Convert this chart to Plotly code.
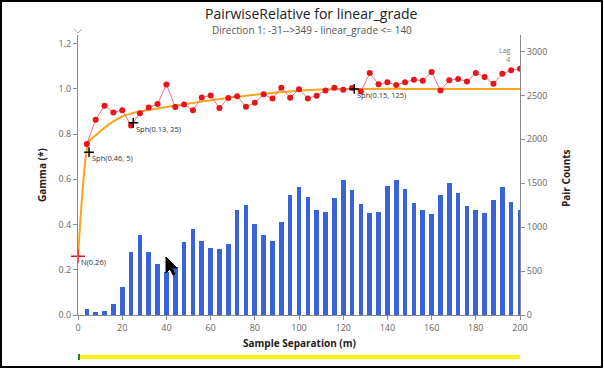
import plotly.graph_objects as go

# ---- data ----
lags = [4, 8, 12, 16, 20, 24, 28, 32, 36, 40, 44, 48, 52, 56, 60, 64, 68, 72, 76, 80,
        84, 88, 92, 96, 100, 104, 108, 112, 116, 120, 124, 128, 132, 136, 140, 144,
        148, 152, 156, 160, 164, 168, 172, 176, 180, 184, 188, 192, 196, 200]
gamma = [0.756, 0.864, 0.926, 0.896, 0.906, 0.838, 0.892, 0.918, 0.933, 1.020,
         0.920, 0.931, 0.906, 0.962, 0.971, 0.915, 0.960, 0.968, 0.921, 0.939,
         0.976, 0.957, 1.005, 0.961, 0.999, 0.958, 0.970, 0.993, 1.005, 0.996,
         1.004, 0.989, 1.070, 1.021, 1.029, 1.017, 1.029, 1.041, 1.036, 1.075,
         0.993, 1.038, 1.044, 1.033, 1.070, 1.053, 1.023, 1.067, 1.082, 1.089]
pair_counts = [65, 35, 50, 130, 320, 712, 913, 712, 576, 493, 542, 826, 974, 845, 762,
               747, 803, 1198, 1251, 1031, 906, 845, 1061, 1364, 1459, 1345, 1194, 1171,
               1334, 1540, 1421, 1262, 1167, 1175, 1470, 1540, 1436, 1270, 1190, 1145,
               1372, 1505, 1391, 1236, 1190, 1156, 1304, 1459, 1292, 1201]

model_x = [0, 1, 2, 3, 4, 5, 7, 10, 15, 20, 25, 30, 40, 50, 60, 70, 80, 90, 100,
           110, 125, 150, 175, 200]
model_y = [0.26, 0.406, 0.541, 0.653, 0.732, 0.768, 0.786, 0.812, 0.850, 0.878, 0.894,
           0.903, 0.920, 0.935, 0.950, 0.963, 0.974, 0.984, 0.992, 0.997, 1.0, 1.0, 1.0, 1.0]

nugget_x = [0]
nugget_y = [0.26]
nugget_label = ["N(0.26)"]
struct_x = [5, 25, 125]
struct_y = [0.72, 0.85, 1.0]
struct_labels = ["Sph(0.46, 5)", "Sph(0.13, 25)", "Sph(0.15, 125)"]

x_ticks = [0, 20, 40, 60, 80, 100, 120, 140, 160, 180, 200]
gamma_ticks = [0.0, 0.2, 0.4, 0.6, 0.8, 1.0, 1.2]
count_ticks = [0, 500, 1000, 1500, 2000, 2500, 3000]

FONT = "Open Sans"
GREY = "#666666"
AXC = "#8a8a8a"
W, H = 442, 280  # plot area size in px

fig = go.Figure()

fig.add_trace(go.Bar(x=lags, y=pair_counts, width=2.1, marker_color="#3b63d9",
                     marker_line_width=0, yaxis="y", showlegend=False))
fig.add_trace(go.Scatter(x=model_x, y=model_y, mode="lines",
                         line=dict(color="#ffa41c", width=2, shape="spline"),
                         yaxis="y2", showlegend=False, cliponaxis=False))
fig.add_trace(go.Scatter(x=lags, y=gamma, mode="lines+markers",
                         line=dict(color="#f0707a", width=1),
                         marker=dict(color="#e8141c", size=6),
                         yaxis="y2", showlegend=False))
fig.add_trace(go.Scatter(x=struct_x, y=struct_y, mode="markers",
                         marker=dict(symbol="cross-thin", size=7, line=dict(color="black", width=1.5)),
                         yaxis="y2", showlegend=False, cliponaxis=False))
fig.add_trace(go.Scatter(x=nugget_x, y=nugget_y, mode="markers",
                         marker=dict(symbol="cross-thin", size=10, line=dict(color="#e8141c", width=1.5)),
                         yaxis="y2", showlegend=False, cliponaxis=False))

annots = []
for xv, yv, t in zip(nugget_x + struct_x, nugget_y + struct_y, nugget_label + struct_labels):
    annots.append(dict(x=xv, y=yv, xref="x", yref="y2", text=t, showarrow=False,
                       xanchor="left", yanchor="top", xshift=1, yshift=1,
                       font=dict(family=FONT, size=7.5, color="#333333")))

annots += [
    dict(x=0.529, y=1.0, xref="paper", yref="paper", yanchor="middle", yshift=35 - 13,
         text="PairwiseRelative for linear_grade", showarrow=False,
         font=dict(family=FONT, size=14, color="#222222")),
    dict(x=0.529, y=1.0, xref="paper", yref="paper", yanchor="middle", yshift=35 - 30,
         text="Direction 1: -31-->349 - linear_grade <= 140", showarrow=False,
         font=dict(family=FONT, size=10, color="#555555")),
    dict(x=0.5, y=0, xref="paper", yref="paper", yanchor="middle", yshift=-(343 - 315),
         text="<b>Sample Separation (m)</b>", showarrow=False,
         font=dict(family=FONT, size=10, color="#222222")),
    dict(x=0, y=0.5, xref="paper", yref="paper", xanchor="center", yanchor="middle", xshift=42 - 78,
         textangle=-90, text="<b>Gamma (*)</b>", showarrow=False,
         font=dict(family=FONT, size=10, color="#222222")),
    dict(x=1, y=0.5, xref="paper", yref="paper", xanchor="center", yanchor="middle", xshift=566 - 520,
         yshift=-3, textangle=-90, text="<b>Pair Counts</b>", showarrow=False,
         font=dict(family=FONT, size=10, color="#222222")),
    dict(x=1, y=1, xref="paper", yref="paper", xanchor="right", yanchor="top", xshift=-7, yshift=-9,
         text="Lag<br>4", showarrow=False, align="right",
         font=dict(family=FONT, size=7, color="#777777")),
]

shapes = [
    # outer frame
    dict(type="rect", xref="paper", yref="paper", x0=-77 / W, x1=(602 - 78) / W,
         y0=(315 - 367) / H, y1=314 / H, line=dict(color="black", width=2)),
    # yellow slider bar
    dict(type="rect", xref="x", yref="paper", x0=0, x1=200,
         y0=(315 - 359) / H, y1=(315 - 355) / H, fillcolor="#f8f400", line_width=0),
    dict(type="rect", xref="x", yref="paper", x0=0, x1=0.9,
         y0=(315 - 360) / H, y1=(315 - 354) / H, fillcolor="#1a8a2a", line_width=0),
    # left axis chevron
    dict(type="path", xref="paper", yref="paper",
         path="M %f %f L %f %f L %f %f" % (-4 / W, 286 / H, 0, 282 / H, 4 / W, 286 / H),
         line=dict(color="#aaaaaa", width=1)),
]
# mouse cursor
cx, cy = (166 - 78) / W, (315 - 257) / H
px, py = 1 / W, 1 / H
pts = [(0, 0), (0, 16), (4, 12), (7, 18), (9, 17), (6, 11), (11, 11)]
path = "M " + " L ".join("%f %f" % (cx + a * px, cy - b * py) for a, b in pts) + " Z"
shapes.append(dict(type="path", xref="paper", yref="paper", path=path,
                   fillcolor="black", line=dict(color="black", width=1)))

fig.update_layout(
    width=604, height=369,
    margin=dict(l=78, r=84, t=35, b=54),
    paper_bgcolor="white", plot_bgcolor="white",
    bargap=0,
    annotations=annots,
    shapes=shapes,
    xaxis=dict(range=[0, 200], tickvals=x_ticks, showgrid=False, zeroline=False,
               showline=True, linecolor=AXC, linewidth=1, ticks="outside", ticklen=4,
               tickcolor=AXC, tickfont=dict(family=FONT, size=9, color=GREY)),
    yaxis=dict(range=[0, 3188], tickvals=count_ticks, side="right", showgrid=False, zeroline=False,
               showline=True, linecolor=AXC, linewidth=1, ticks="outside", ticklen=4,
               tickcolor=AXC, tickfont=dict(family=FONT, size=9, color=GREY)),
    yaxis2=dict(range=[0, 1.2384], tickvals=gamma_ticks, tickformat=".1f", side="left",
                overlaying="y", showgrid=False, zeroline=False,
                showline=True, linecolor=AXC, linewidth=1, ticks="outside", ticklen=4,
                tickcolor=AXC, tickfont=dict(family=FONT, size=9, color=GREY)),
    font=dict(family=FONT),
)

fig.write_html("out.html", config={"displayModeBar": False},
               post_script="document.body.style.margin='0';document.body.style.padding='0';")
